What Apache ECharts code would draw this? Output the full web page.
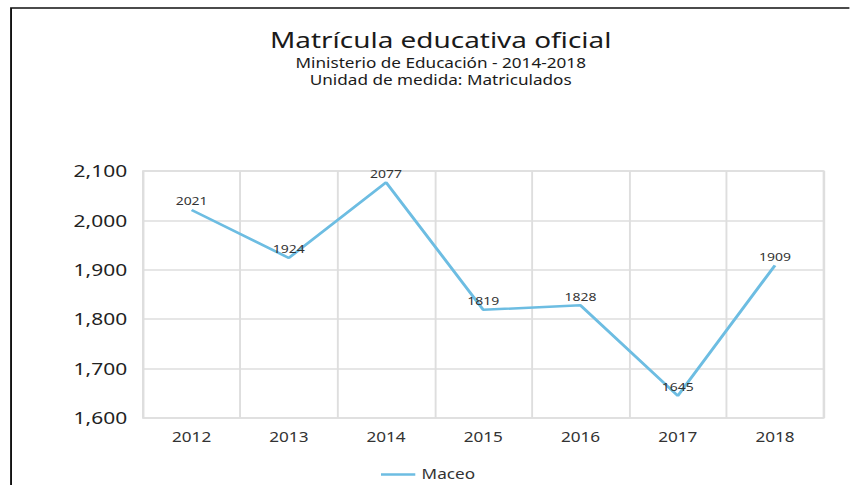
<!DOCTYPE html>
<html>
<head>
<meta charset="utf-8">
<script src="https://cdn.jsdelivr.net/npm/echarts@6/dist/echarts.min.js"></script>
<style>
  html, body { margin: 0; padding: 0; background: #fff; overflow: hidden; }
  /* la imagen original está estirada a lo ancho, se dibuja más estrecha y se escala */
  #chart { width: 669px; height: 485px; transform: scaleX(1.27); transform-origin: 0 0; }
</style>
</head>
<body>
<div id="chart"></div>
<script>
// datos del gráfico
const anios = ['2012', '2013', '2014', '2015', '2016', '2017', '2018'];
const maceo = [2021, 1924, 2077, 1819, 1828, 1645, 1909];
const ejeY = { min: 1600, max: 2100, interval: 100 };

let lineChart = echarts.init(document.getElementById('chart'), null, { renderer: 'svg' });
let option = {
    textStyle: { fontFamily: 'Noto Sans' },
    animation: false,
    title: {
        text: 'Matrícula educativa oficial',
        subtext: 'Ministerio de Educación - 2014-2018\nUnidad de medida: Matriculados',
        left: 342,
        textAlign: 'center',
        top: 21,
        itemGap: 3,
        textStyle: { fontSize: 22, fontWeight: 'normal', color: '#1a1a1a', lineHeight: 26 },
        subtextStyle: { fontSize: 13.5, color: '#1a1a1a', lineHeight: 16.5 }
    },
    // marco negro de la imagen
    graphic: [{
        type: 'polyline',
        shape: { points: [[8.7, 485], [8.7, 8], [669, 8]] },
        style: { stroke: '#111', lineWidth: 1.5, fill: null }
    }],
    legend: {
        data: ['Maceo'],
        top: 467,
        left: 300,
        padding: 0,
        itemWidth: 27,
        itemHeight: 2.5,
        itemGap: 5,
        icon: 'rect',
        textStyle: { fontSize: 13.5, color: '#333', lineHeight: 15 }
    },
    grid: {
        left: 112.6,
        right: 20.5,
        top: 171,
        bottom: 67,
        show: true,
        borderColor: '#dedede',
        borderWidth: 1.5
    },
    xAxis: {
        type: 'category',
        data: anios,
        boundaryGap: true,
        axisLine: { show: false },
        axisTick: { show: false },
        axisLabel: { fontSize: 13.5, color: '#333', margin: 12 },
        splitLine: { show: true, lineStyle: { color: '#dedede', width: 1.5 } }
    },
    yAxis: {
        type: 'value',
        min: ejeY.min,
        max: ejeY.max,
        interval: ejeY.interval,
        axisLine: { show: false },
        axisTick: { show: false },
        axisLabel: {
            fontSize: 16.5,
            color: '#222',
            margin: 12.5,
            formatter: function (v) { return v.toLocaleString('en-US'); }
        },
        splitLine: { lineStyle: { color: '#dedede', width: 1.5 } }
    },
    series: [{
        name: 'Maceo',
        type: 'line',
        data: maceo,
        symbol: 'circle',
        symbolSize: 0,
        showSymbol: true,
        lineStyle: { color: '#6dbde2', width: 2.5 },
        itemStyle: { color: '#6dbde2' },
        label: { show: true, position: 'top', fontSize: 11, color: '#333', distance: 3 }
    }]
};
lineChart.setOption(option);
</script>
</body>
</html>
